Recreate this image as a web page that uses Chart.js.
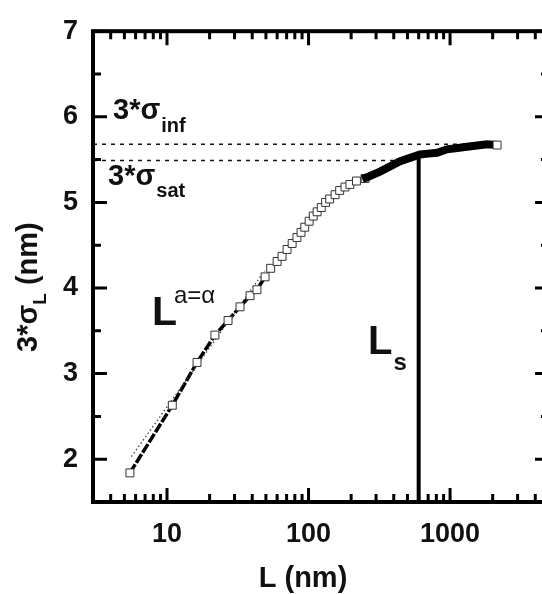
<!DOCTYPE html>
<html>
<head>
<meta charset="utf-8">
<script src="https://cdn.jsdelivr.net/npm/chart.js@4/dist/chart.umd.min.js"></script>
<style>
html, body { margin: 0; padding: 0; overflow: hidden; background: #fff; }
canvas { display: block; }
</style>
</head>
<body>
<canvas id="sigmaChart" width="560" height="594"></canvas>
<script>
// 3*sigma_L (nm) against window length L (nm), open squares
const lengths = [5.47, 10.9, 16.3, 21.8, 27.0, 32.8, 38.6, 43.2, 49.3, 54, 60, 65, 70.5, 76.6, 82.8, 88.5, 94, 101, 108, 115, 123, 132, 141, 154, 166, 181, 196, 218, 251];
const sigmas = [1.84, 2.63, 3.13, 3.45, 3.62, 3.78, 3.91, 3.98, 4.13, 4.23, 4.31, 4.37, 4.45, 4.52, 4.59, 4.65, 4.71, 4.78, 4.84, 4.89, 4.94, 5.00, 5.04, 5.09, 5.14, 5.18, 5.21, 5.25, 5.28];

// dense part of the curve, the squares merge into a black band
const bandLengths = [240, 320, 444, 614, 700, 809, 953, 1318, 1823, 2148];
const bandSigmas = [5.27, 5.36, 5.48, 5.56, 5.57, 5.58, 5.62, 5.65, 5.68, 5.67];
const lastLength = [2148];
const lastSigma = [5.67];

// power law fit L^alpha (thin dotted)
const fitLengths = [5.6, 49];
const fitSigmas = [2.03, 4.2];

// saturation values and L_s
const sigmaInf = 5.68;
const sigmaSat = 5.49;
const infEnd = 1950;
const satLength = 600;
const satTop = 5.56;

// axes
const xMin = 3, xMax = 5000;
const yMin = 1.5, yMax = 7;
const xTicks = [10, 100, 1000];
const xMinorTicks = [4, 5, 6, 7, 8, 9, 20, 30, 40, 50, 60, 70, 80, 90, 200, 300, 400, 500, 600, 700, 800, 900, 2000, 3000, 4000];
const yTicks = [2, 3, 4, 5, 6, 7];
const yMinorTicks = [2.5, 3.5, 4.5, 5.5, 6.5];

const FONT = "'Liberation Sans', Arial, sans-serif";

function pts(xs, ys) {
    return xs.map((x, i) => ({ x: x, y: ys[i] }));
}

// cadre + graduations vers l'intérieur, sur les quatre côtés
const framePlugin = {
    id: 'frame',
    afterDatasetsDraw(chart) {
        const ctx = chart.ctx;
        const a = chart.chartArea;
        const xs = chart.scales.x, ys = chart.scales.y;
        ctx.save();
        ctx.strokeStyle = '#000';
        ctx.lineWidth = 3;
        function tickX(v, len) {
            const px = xs.getPixelForValue(v);
            ctx.beginPath();
            ctx.moveTo(px, a.bottom); ctx.lineTo(px, a.bottom - len);
            ctx.moveTo(px, a.top); ctx.lineTo(px, a.top + len);
            ctx.stroke();
        }
        function tickY(v, len) {
            const py = ys.getPixelForValue(v);
            ctx.beginPath();
            ctx.moveTo(a.left, py); ctx.lineTo(a.left + len, py);
            ctx.moveTo(a.right, py); ctx.lineTo(a.right - len, py);
            ctx.stroke();
        }
        xTicks.forEach(v => tickX(v, 14));
        xMinorTicks.forEach(v => tickX(v, 8));
        yTicks.forEach(v => tickY(v, 14));
        yMinorTicks.forEach(v => tickY(v, 8));
        ctx.lineWidth = 4;
        ctx.strokeRect(a.left, a.top, a.right - a.left, a.bottom - a.top);
        ctx.restore();
    },
    afterDraw(chart) {
        const ctx = chart.ctx;
        ctx.save();
        ctx.fillStyle = '#111';
        ctx.textBaseline = 'alphabetic';

        // titre axe x
        ctx.font = 'bold 29px ' + FONT;
        ctx.textAlign = 'center';
        ctx.fillText('L (nm)', 303, 587);

        // titre axe y, avec indice
        ctx.save();
        ctx.translate(37, 352);
        ctx.rotate(-Math.PI / 2);
        ctx.textAlign = 'left';
        ctx.font = 'bold 29px ' + FONT;
        ctx.fillText('3*σ', 0, 0);
        let w = ctx.measureText('3*σ').width;
        ctx.font = 'bold 19px ' + FONT;
        ctx.fillText('L', w, 9);
        w += ctx.measureText('L').width;
        ctx.font = 'bold 29px ' + FONT;
        ctx.fillText(' (nm)', w, 0);
        ctx.restore();

        ctx.textAlign = 'left';
        function sub(main, low, x, y, size, lowSize, dy) {
            ctx.font = 'bold ' + size + 'px ' + FONT;
            ctx.fillText(main, x, y);
            const mw = ctx.measureText(main).width;
            ctx.font = 'bold ' + lowSize + 'px ' + FONT;
            ctx.fillText(low, x + mw + 1, y + dy);
        }
        sub('3*σ', 'inf', 113, 119, 29, 20, 13);
        sub('3*σ', 'sat', 108, 185, 29, 20, 12);
        sub('L', 's', 368, 354, 40, 24, 16);

        // L^a=alpha
        ctx.font = 'bold 41px ' + FONT;
        ctx.fillText('L', 152, 325);
        ctx.font = '24px ' + FONT;
        ctx.fillText('a=α', 174, 303);
        ctx.restore();
    }
};

new Chart(document.getElementById('sigmaChart'), {
    type: 'scatter',
    data: {
        datasets: [
            {
                // 3*sigma_inf
                data: pts([xMin, infEnd], [sigmaInf, sigmaInf]),
                showLine: true, pointRadius: 0,
                borderColor: '#111', borderWidth: 1.5, borderDash: [4, 5],
                order: 5
            },
            {
                // 3*sigma_sat
                data: pts([xMin, satLength], [sigmaSat, sigmaSat]),
                showLine: true, pointRadius: 0,
                borderColor: '#111', borderWidth: 1.5, borderDash: [4, 5],
                order: 5
            },
            {
                // L_s
                data: pts([satLength, satLength], [yMin, satTop]),
                showLine: true, pointRadius: 0,
                borderColor: '#000', borderWidth: 4,
                order: 4
            },
            {
                // ajustement (pointillé fin)
                data: pts(fitLengths, fitSigmas),
                showLine: true, pointRadius: 0,
                borderColor: '#444', borderWidth: 1.3, borderDash: [1.5, 2.5],
                order: 3
            },
            {
                // ajustement épais sur les premiers points
                data: pts(lengths.slice(0, 9), sigmas.slice(0, 9)),
                showLine: true, pointRadius: 0,
                borderColor: '#000', borderWidth: 3.5, borderDash: [10, 2],
                order: 3
            },
            {
                data: pts(lengths, sigmas),
                showLine: false,
                pointStyle: 'rect', pointRadius: 5.6,
                backgroundColor: '#fff', borderColor: '#333', borderWidth: 1,
                order: 2
            },
            {
                data: pts(bandLengths, bandSigmas),
                showLine: true, pointRadius: 0,
                borderColor: '#000', borderWidth: 8, borderCapStyle: 'butt',
                order: 1
            },
            {
                data: pts(lastLength, lastSigma),
                showLine: false,
                pointStyle: 'rect', pointRadius: 5.6,
                backgroundColor: '#fff', borderColor: '#333', borderWidth: 1,
                order: 0
            }
        ]
    },
    options: {
        responsive: false,
        animation: false,
        events: [],
        layout: { padding: { left: 0, top: 22, right: 11, bottom: 0 } },
        plugins: { legend: { display: false }, tooltip: { enabled: false } },
        scales: {
            x: {
                type: 'logarithmic',
                min: xMin, max: xMax,
                grid: { display: false, drawTicks: false },
                border: { display: false },
                afterBuildTicks: s => { s.ticks = xTicks.map(v => ({ value: v })); },
                afterFit: s => { s.height = 92; },
                ticks: {
                    autoSkip: false, maxRotation: 0, padding: 16,
                    color: '#111',
                    font: { family: FONT, size: 27, weight: 'bold' },
                    callback: v => String(v)
                }
            },
            y: {
                type: 'linear',
                min: yMin, max: yMax,
                grid: { display: false, drawTicks: false },
                border: { display: false },
                afterBuildTicks: s => { s.ticks = yTicks.map(v => ({ value: v })); },
                afterFit: s => { s.width = 93; },
                ticks: {
                    autoSkip: false, padding: 15,
                    color: '#111',
                    font: { family: FONT, size: 27, weight: 'bold' },
                    callback: v => String(v)
                }
            }
        }
    },
    plugins: [framePlugin]
});
</script>
</body>
</html>
